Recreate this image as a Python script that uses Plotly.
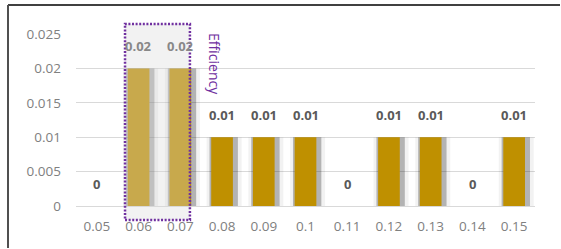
import plotly.graph_objects as go

categories = ["0.05", "0.06", "0.07", "0.08", "0.09", "0.1", "0.11", "0.12", "0.13", "0.14", "0.15"]
values = [0, 0.02, 0.02, 0.01, 0.01, 0.01, 0, 0.01, 0.01, 0, 0.01]
value_labels = ["0", "0.02", "0.02", "0.01", "0.01", "0.01", "0", "0.01", "0.01", "0", "0.01"]
highlighted = ["0.06", "0.07"]
y_ticks = [0, 0.005, 0.01, 0.015, 0.02, 0.025]
y_tick_labels = ["0", "0.005", "0.01", "0.015", "0.02", "0.025"]
highlight_label = "Efficiency"

FONT = "Open Sans"
GOLD = "#BF9000"
PURPLE = "#7030A0"
PLOT_H = 172.0  # plot area height in px
PLOT_W = 459.0  # plot area width in px

fig = go.Figure()
# soft shadow glow
fig.add_trace(go.Bar(x=categories, y=values, width=0.84, offset=-0.37,
                     marker=dict(color="rgba(0,0,0,0.05)", line=dict(width=0)),
                     hoverinfo="skip", showlegend=False))
fig.add_trace(go.Bar(x=categories, y=values, width=0.68, offset=-0.30,
                     marker=dict(color="rgba(0,0,0,0.26)", line=dict(width=0)),
                     hoverinfo="skip", showlegend=False))
fig.add_trace(go.Bar(x=categories, y=values, width=0.52, offset=-0.26,
                     marker=dict(color=GOLD, line=dict(width=0)),
                     showlegend=False))

for i, (c, v, t) in enumerate(zip(categories, values, value_labels)):
    fig.add_annotation(x=i, y=v, xref="x", yref="y", text="<b>%s</b>" % t, showarrow=False,
                       yshift=22, yanchor="middle",
                       font=dict(family=FONT, size=13,
                                 color="#888888" if c in highlighted else "#595959"))

i0 = categories.index(highlighted[0])
i1 = categories.index(highlighted[-1])
fig.add_shape(type="rect", xref="x", yref="paper",
              x0=i0 - 0.325, x1=i1 + 0.23, y0=-14 / PLOT_H, y1=1 + 10 / PLOT_H,
              line=dict(color=PURPLE, width=2.5, dash="2px,1.6px"),
              fillcolor="rgba(217,217,217,0.35)", layer="above")
fig.add_annotation(x=i1 + 0.83, y=1, xref="x", yref="paper", text=highlight_label,
                   textangle=90, showarrow=False, xanchor="center", yanchor="top",
                   yshift=3, font=dict(family=FONT, size=14, color=PURPLE))

# chart border (top and left only)
fig.add_shape(type="line", xref="paper", yref="paper", x0=-68 / PLOT_W, x1=1 + 25 / PLOT_W,
              y0=1 + 29 / PLOT_H, y1=1 + 29 / PLOT_H, line=dict(color="#404040", width=2))
fig.add_shape(type="line", xref="paper", yref="paper", x0=-68 / PLOT_W, x1=-68 / PLOT_W,
              y0=1 + 29 / PLOT_H, y1=-42 / PLOT_H, line=dict(color="#505050", width=2))

fig.update_layout(
    width=561, height=249,
    margin=dict(l=76, r=26, t=34, b=43),
    paper_bgcolor="white", plot_bgcolor="white",
    barmode="overlay",
    font=dict(family=FONT, size=13.5, color="#808080"),
    xaxis=dict(type="category", showgrid=False, showline=False, ticks="",
               ticklabelstandoff=10,
               tickfont=dict(family=FONT, size=13.5, color="#808080")),
    yaxis=dict(range=[0, 0.025], tickvals=y_ticks, ticktext=y_tick_labels,
               showgrid=True, gridcolor="#D9D9D9", gridwidth=1,
               zeroline=True, zerolinecolor="#D9D9D9", zerolinewidth=1,
               showline=False, ticks="", ticklabelstandoff=14,
               tickfont=dict(family=FONT, size=13.5, color="#808080")),
)

page_css = ("html,body{margin:0;padding:0;overflow:hidden;scrollbar-width:none;}"
            "::-webkit-scrollbar{display:none;width:0;height:0;}")
fig.write_html("out.html", config={"displayModeBar": False},
               post_script="var s=document.createElement('style');s.textContent='%s';"
                           "document.head.appendChild(s);" % page_css)
